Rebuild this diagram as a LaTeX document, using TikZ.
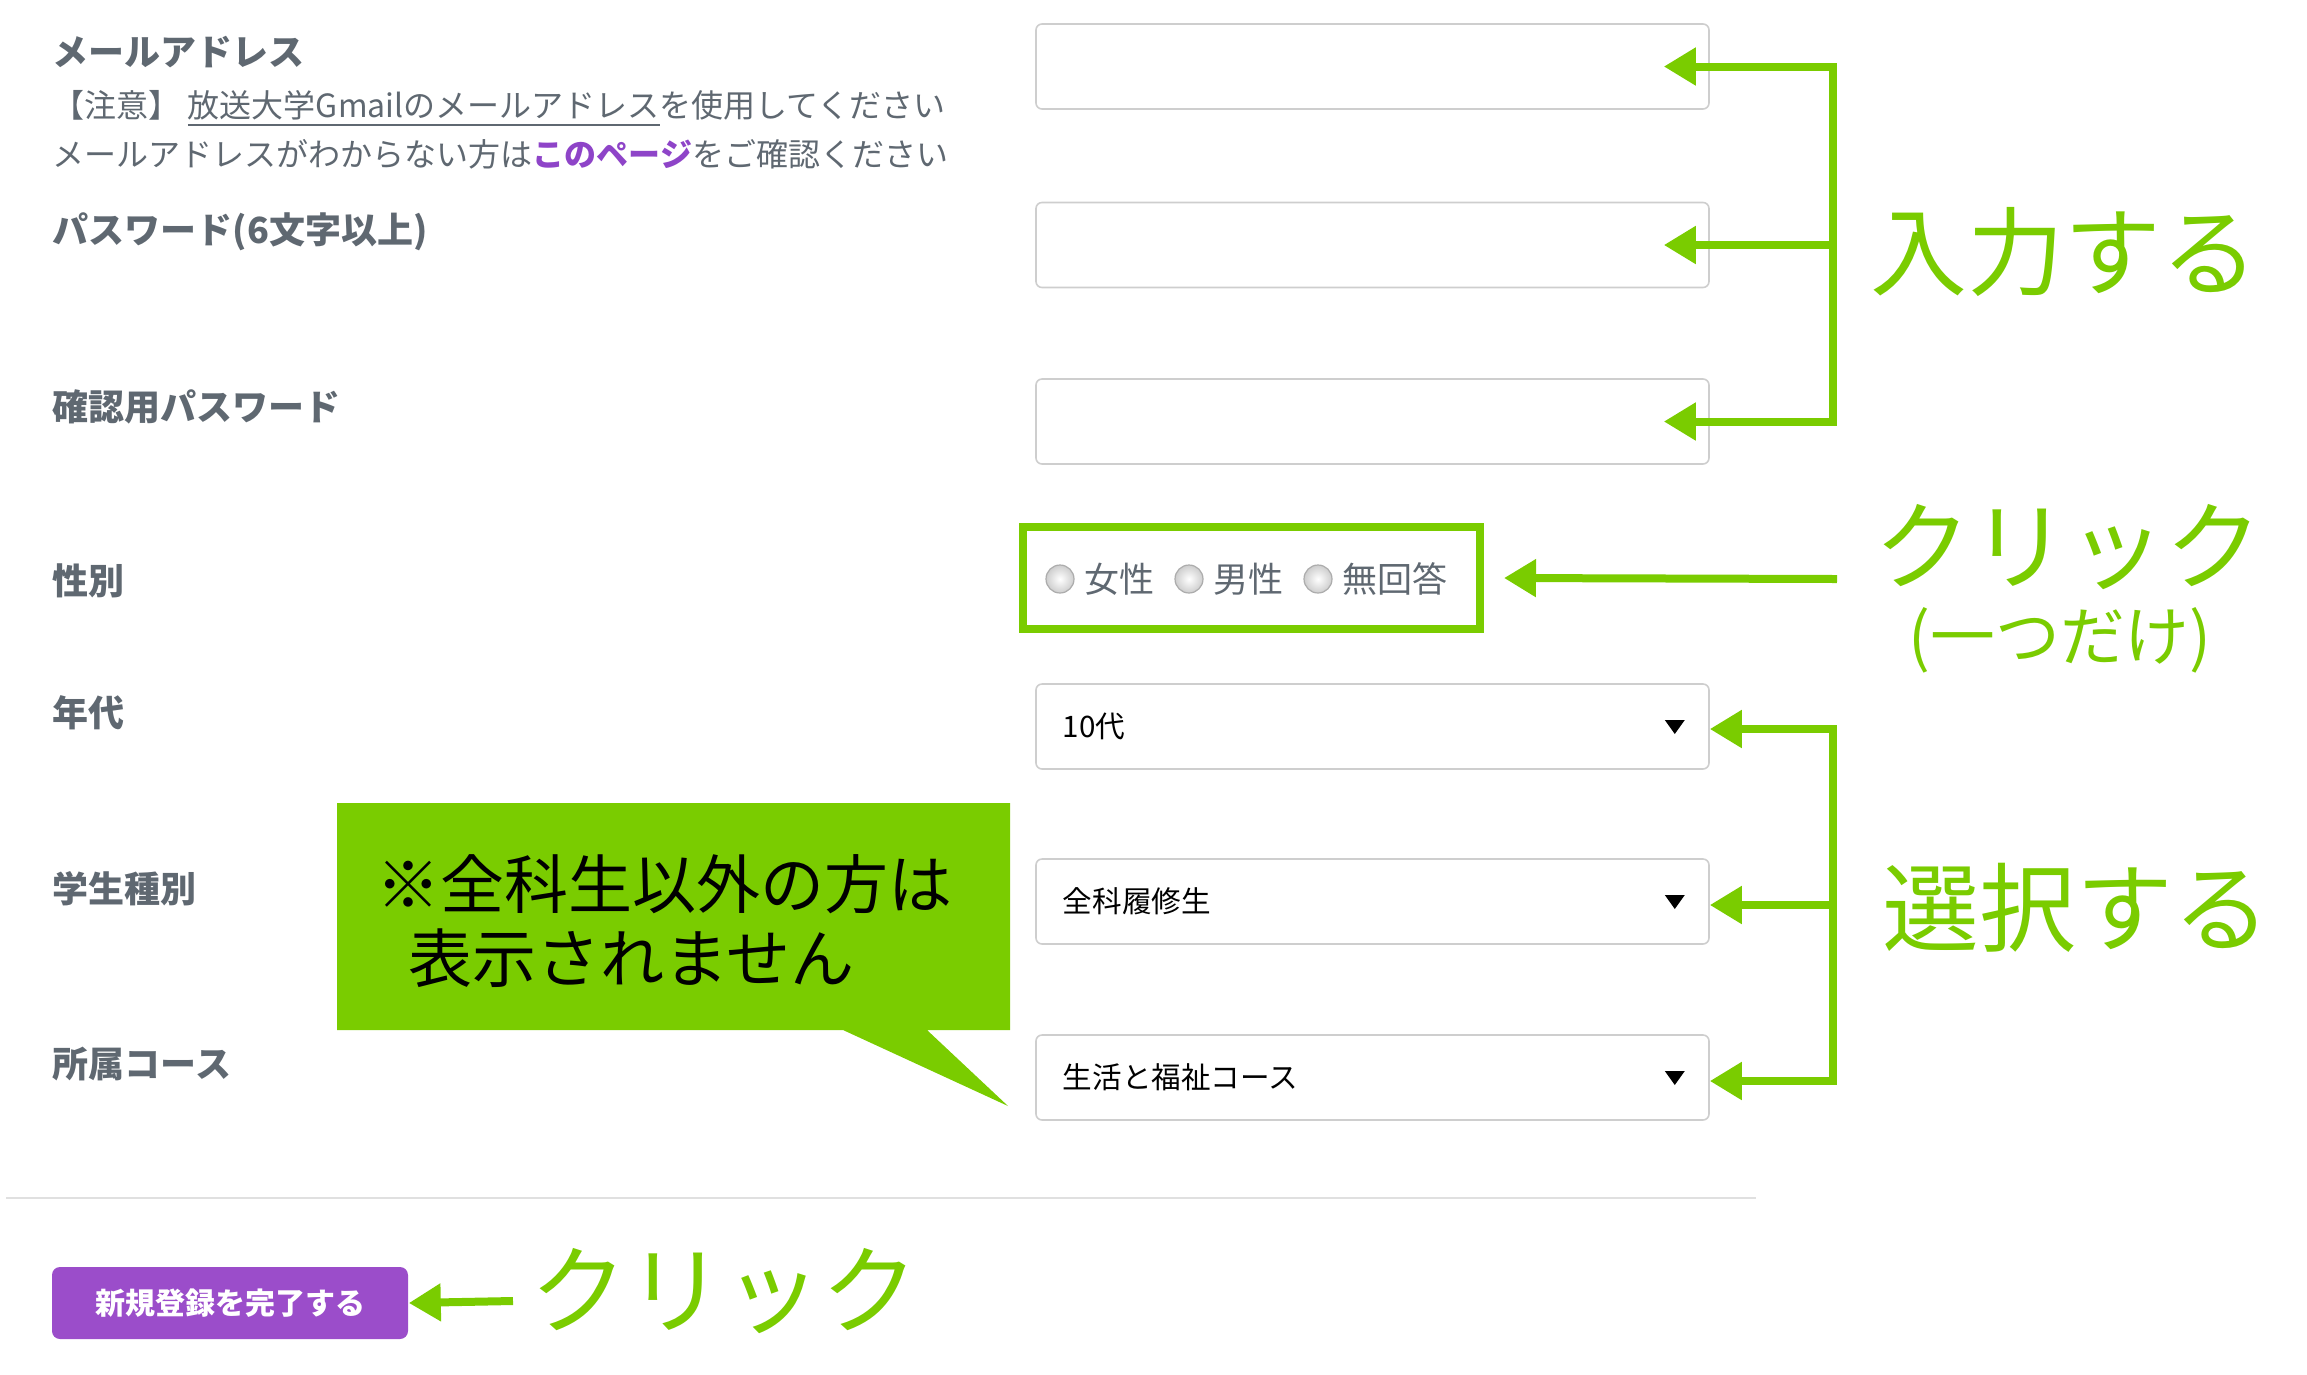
\documentclass[tikz,border=0pt]{standalone}
\usepackage{fontspec}
\setmainfont{Noto Sans CJK JP}
\usepackage{color}
\usetikzlibrary{arrows.meta, positioning, calc}

\definecolor{leaf}{RGB}{122,204,0}
\definecolor{inkgray}{RGB}{95,104,113}
\definecolor{boxgray}{RGB}{206,206,206}
\definecolor{btnpurple}{RGB}{155,77,202}
\definecolor{linkpurple}{RGB}{142,68,200}

\begin{document}
\begin{tikzpicture}[x=0.25pt,y=0.25pt,yscale=-1,xscale=1,
  formlabel/.style={anchor=west, inner sep=0pt, text=inkgray, font=\fontsize{9}{11}\selectfont\bfseries},
  hint/.style={anchor=base west, inner sep=0pt, text=inkgray, font=\fontsize{8}{10}\selectfont},
  field/.style={draw=boxgray, line width=0.4pt, rounded corners=1.5pt, fill=white, minimum width=168.25pt, minimum height=21.25pt, inner sep=0pt},
  choice/.style={anchor=west, inner sep=0pt, text=black, font=\fontsize{7.4}{9}\selectfont},
  radio/.style={circle, draw={rgb,255:red,172;green,172;blue,172}, inner color=white, outer color={rgb,255:red,205;green,205;blue,205}, line width=0.3pt, minimum size=7pt, inner sep=0pt},
  radiotext/.style={inner sep=0pt, text=inkgray, font=\fontsize{8.75}{10}\selectfont},
  ring/.style={draw=leaf, line width=2pt, minimum width=114.25pt, minimum height=25.5pt, inner sep=0pt},
  guide/.style={draw=leaf, line width=2pt, -{Triangle[length=8pt,width=9pt]}},
  twin/.style={draw=leaf, line width=2pt, {Triangle[length=8pt,width=9pt]}-{Triangle[length=8pt,width=9pt]}},
  shout/.style={anchor=west, inner sep=0pt, text=leaf, font=\fontsize{24.2}{27}\selectfont},
  calltext/.style={anchor=west, inner sep=0pt, text=black, font=\fontsize{16}{18}\selectfont},
  button/.style={fill=btnpurple, rounded corners=2pt, minimum width=89pt, minimum height=18pt, inner sep=0pt, text=white, font=\fontsize{7.5}{9}\selectfont\bfseries}]
\useasboundingbox (0,0) rectangle (2307,1374);

% Text Node
\draw (52,52) node [formlabel] (lmail) {メールアドレス};
% Text Node
\draw (52,117) node [hint] (hint1) {【注意】 \underline{放送大学Gmailのメールアドレス}を使用してください};
% Text Node
\draw (52,166) node [hint] (hint2) {メールアドレスがわからない方は{\color{linkpurple}\bfseries このページ}をご確認ください};
% Text Node
\draw (52,232) node [formlabel] (lpass) {パスワード(6文字以上)};
% Text Node
\draw (52,407) node [formlabel] (lconf) {確認用パスワード};
% Text Node
\draw (52,581) node [formlabel] (lsex) {性別};
% Text Node
\draw (52,713) node [formlabel] (lage) {年代};
% Text Node
\draw (52,889) node [formlabel] (lkind) {学生種別};
% Text Node
\draw (52,1064) node [formlabel] (lcourse) {所属コース};

%Shape: Rectangle
\draw (1372.5,66.5) node [field] (in1) {};
%Shape: Rectangle
\draw (1372.5,245) node [field] (in2) {};
%Shape: Rectangle
\draw (1372.5,421.5) node [field] (in3) {};

%Shape: Rectangle
\draw (1251.5,578) node [ring] (sex) {};
\foreach \n/\x/\t in {fem/1060/女性, male/1189/男性, none/1318/無回答}{
  \draw (\x,579) node [radio] (r\n) {};
  \node [radiotext, right=2.2pt of r\n] (t\n) {\t};
}

%Shape: Rectangle
\draw (1372.5,726.5) node [field] (age) {};
\draw (1062,726) node [choice] (vage) {10代};
%Shape: Rectangle
\draw (1372.5,901.5) node [field] (kind) {};
\draw (1062,901) node [choice] (vkind) {全科履修生};
%Shape: Rectangle
\draw (1372.5,1077.5) node [field] (course) {};
\draw (1062,1077) node [choice] (vcourse) {生活と福祉コース};
\foreach \s in {age,kind,course}{
  \fill ($(\s.east)+(-45,-6.5)$) -- ++(20,0) -- ++(-10,14) -- cycle;
}

%Shape: Polygon
\fill [leaf] (337,803) -- (1010,803) -- (1010,1030) -- (927,1030) -- (1008,1106) -- (843,1030) -- (337,1030) -- cycle;
% Text Node
\draw (376,884) node [calltext] (call1) {※全科生以外の方は};
% Text Node
\draw (408,958) node [calltext] (call2) {表示されません};

%Straight Lines
\draw [draw={rgb,255:red,224;green,224;blue,224}, line width=0.6pt] (6,1198) -- (1756,1198);

%Shape: Rectangle
\draw (230,1303) node [button] (submit) {新規登録を完了する};

%Straight Lines
\coordinate (br1) at (1833,66.5);
\coordinate (br2) at (1833,245);
\coordinate (br3) at (1833,421.5);
\draw [twin] ($(in1.east)+(-46,0)$) -- (br1) -- (br3) -- ($(in3.east)+(-46,0)$);
\draw [guide] (br2) -- ($(in2.east)+(-46,0)$);

%Straight Lines
\coordinate (clickfrom) at (1837,579);
\draw [guide] (clickfrom) -- ($(sex.east)+(20,0)$);

%Straight Lines
\coordinate (sl1) at (1833,729);
\coordinate (sl2) at (1833,905);
\coordinate (sl3) at (1833,1081);
\draw [twin] (age.east |- sl1) -- (sl1) -- (sl3) -- (course.east |- sl3);
\draw [guide] (sl2) -- (kind.east |- sl2);

%Straight Lines
\coordinate (submitfrom) at (513,1301);
\draw [guide] (submitfrom) -- (submit.east);

% Text Node
\draw (1870,252) node [shout] (tinput) {入力する};
% Text Node
\draw (1874,547) node [shout] (tclick) {クリック};
% Text Node
\draw (2060,640) node [inner sep=0pt, text=leaf, font=\fontsize{16.2}{18}\selectfont] (tonly) {(一つだけ)};
% Text Node
\draw (1882,908) node [shout] (tselect) {選択する};
% Text Node
\draw (530,1291) node [shout] (tclick2) {クリック};
\end{tikzpicture}
\end{document}
